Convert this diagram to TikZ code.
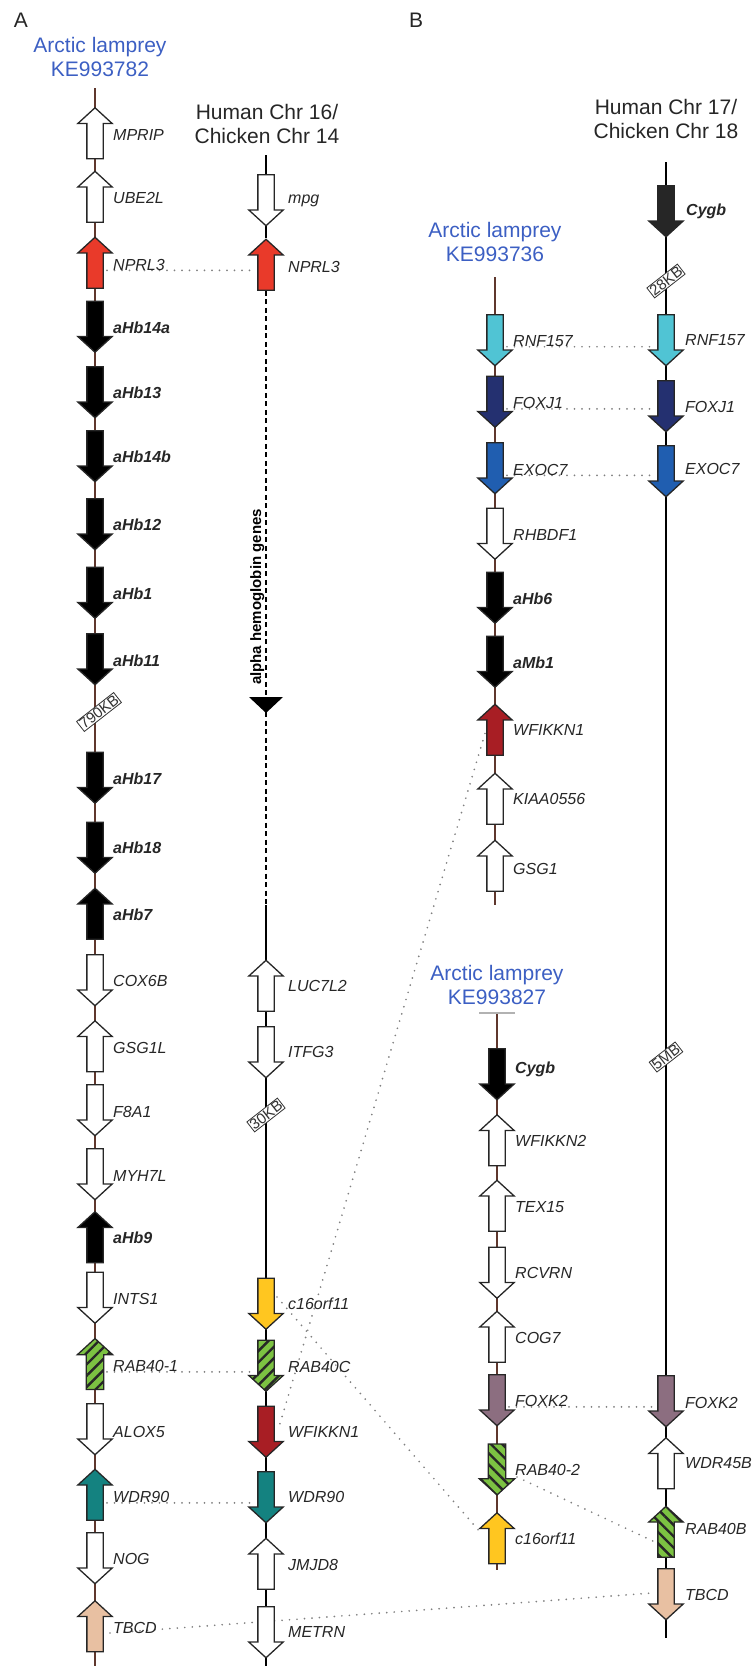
\documentclass[tikz,border=0pt]{standalone}
\usepackage{fontspec}
\setmainfont{Liberation Sans}
\usepackage{tikz}
\usetikzlibrary{shapes.arrows,patterns.meta,backgrounds}
\definecolor{lampblue}{RGB}{60,95,195}
\definecolor{nprred}{RGB}{233,58,42}
\definecolor{wfired}{RGB}{168,30,36}
\definecolor{rnfcyan}{RGB}{80,196,212}
\definecolor{foxnavy}{RGB}{36,48,112}
\definecolor{exoblue}{RGB}{32,94,176}
\definecolor{cyellow}{RGB}{255,198,32}
\definecolor{rabgreen}{RGB}{124,194,66}
\definecolor{wdrteal}{RGB}{20,130,128}
\definecolor{tbcpeach}{RGB}{232,192,162}
\definecolor{foxmauve}{RGB}{140,110,128}
\definecolor{chrbrown}{RGB}{95,55,45}
\tikzstyle{gene} = [draw=black!85, line width=1.3pt, fill=white, single arrow, single arrow head extend=9pt, single arrow tip angle=95, minimum width=33pt, minimum height=51pt, inner xsep=0pt, inner ysep=7.5pt]
\tikzstyle{gdown} = [gene, rotate=-90, xshift=-3.5pt]
\tikzstyle{gup} = [gene, rotate=90, xshift=-3.5pt]
\tikzstyle{glabel} = [anchor=west, inner sep=0pt, font=\fontsize{16}{18}\selectfont\itshape, text=black!85]
\tikzstyle{hblabel} = [glabel, font=\fontsize{16}{18}\selectfont\itshape\bfseries]
\tikzstyle{chrtitle} = [align=center, font=\fontsize{21}{24}\selectfont, text=black!85]
\tikzstyle{lamtitle} = [chrtitle, text=lampblue]
\tikzstyle{hatchne} = [preaction={fill=rabgreen}, pattern={Lines[angle=45,distance=8pt,line width=2.4pt]}, pattern color=black!85]
\tikzstyle{hatchnw} = [preaction={fill=rabgreen}, pattern={Lines[angle=-45,distance=8pt,line width=2.4pt]}, pattern color=black!85]
\tikzstyle{brk} = [draw=black!80, line width=0.8pt, fill=white, rotate=38, inner sep=1pt, font=\fontsize{15}{15}\selectfont, text=black!80]
\tikzstyle{lamline} = [draw=chrbrown, line width=1.2pt]
\tikzstyle{humline} = [draw=black, line width=1.8pt]
\tikzstyle{dashline} = [humline, dash pattern=on 5pt off 3.5pt]
\tikzstyle{homolog} = [draw=black!50, line width=1.9pt, line cap=round, dash pattern=on 0pt off 7.5pt]
\begin{document}
\begin{tikzpicture}[x=1pt, y=-1pt]
        \useasboundingbox (0,0) rectangle (755,1666);
        \node[chrtitle] (panA) at (21,20) {A};
        \node[chrtitle] (panB) at (416,20) {B};
        \node[lamtitle] (tlam1) at (100,57) {Arctic lamprey\\KE993782};
        \node[chrtitle] (thum16) at (267,124) {Human Chr 16/\\Chicken Chr 14};
        \node[lamtitle] (tlam2) at (495,242) {Arctic lamprey\\KE993736};
        \node[chrtitle] (thum17) at (666,119) {Human Chr 17/\\Chicken Chr 18};
        \node[lamtitle] (tlam3) at (497,985) {Arctic lamprey\\KE993827};
        \coordinate (lTop) at (95,88);
        \coordinate (lBot) at (95,1666);
        \coordinate (hTop) at (266,155);
        \coordinate (hTri) at (266,697);
        \coordinate (hTriB) at (266,712);
        \coordinate (hSolid) at (266,905);
        \coordinate (hBot) at (266,1666);
        \coordinate (mTop) at (495,277);
        \coordinate (mBot) at (495,905);
        \coordinate (kTop) at (497,1013);
        \coordinate (kBot) at (497,1570);
        \coordinate (cTop) at (666,162);
        \coordinate (cBot) at (666,1638);

        \node[gup] (lMPRIP) at (95,133.5) {};
        \node[glabel] (tlMPRIP) at (113,135) {MPRIP};
        \node[gup] (lUBE2L) at (95,197) {};
        \node[glabel] (tlUBE2L) at (113,198) {UBE2L};
        \node[gup, fill=nprred] (lNPRL3) at (95,263) {};
        \node[glabel] (tlNPRL3) at (113,264.5) {NPRL3};
        \node[gdown, fill=black] (laHb14a) at (95,326.5) {};
        \node[hblabel] (tlaHb14a) at (113,328) {aHb14a};
        \node[gdown, fill=black] (laHb13) at (95,392) {};
        \node[hblabel] (tlaHb13) at (113,393) {aHb13};
        \node[gdown, fill=black] (laHb14b) at (95,456) {};
        \node[hblabel] (tlaHb14b) at (113,457) {aHb14b};
        \node[gdown, fill=black] (laHb12) at (95,524) {};
        \node[hblabel] (tlaHb12) at (113,525) {aHb12};
        \node[gdown, fill=black] (laHb1) at (95,592.5) {};
        \node[hblabel] (tlaHb1) at (113,594) {aHb1};
        \node[gdown, fill=black] (laHb11) at (95,659) {};
        \node[hblabel] (tlaHb11) at (113,661) {aHb11};
        \node[brk] (lgap) at (99,712) {790KB};
        \node[gdown, fill=black] (laHb17) at (95,777.5) {};
        \node[hblabel] (tlaHb17) at (113,779) {aHb17};
        \node[gdown, fill=black] (laHb18) at (95,847.5) {};
        \node[hblabel] (tlaHb18) at (113,848) {aHb18};
        \node[gup, fill=black] (laHb7) at (95,914) {};
        \node[hblabel] (tlaHb7) at (113,915) {aHb7};
        \node[gdown] (lCOX6B) at (95,980) {};
        \node[glabel] (tlCOX6B) at (113,981) {COX6B};
        \node[gup] (lGSG1L) at (95,1046.5) {};
        \node[glabel] (tlGSG1L) at (113,1048) {GSG1L};
        \node[gdown] (lF8A1) at (95,1110) {};
        \node[glabel] (tlF8A1) at (113,1112) {F8A1};
        \node[gdown] (lMYH7L) at (95,1174) {};
        \node[glabel] (tlMYH7L) at (113,1176) {MYH7L};
        \node[gup, fill=black] (laHb9) at (95,1237.5) {};
        \node[hblabel] (tlaHb9) at (113,1238) {aHb9};
        \node[gdown] (lINTS1) at (95,1297.5) {};
        \node[glabel] (tlINTS1) at (113,1299) {INTS1};
        \node[gup, hatchne] (lRAB40) at (95,1364.5) {};
        \node[glabel] (tlRAB40) at (113,1366) {RAB40-1};
        \node[gdown] (lALOX5) at (95,1429) {};
        \node[glabel] (tlALOX5) at (113,1432) {ALOX5};
        \node[gup, fill=wdrteal] (lWDR90) at (95,1495) {};
        \node[glabel] (tlWDR90) at (113,1497) {WDR90};
        \node[gdown] (lNOG) at (95,1558) {};
        \node[glabel] (tlNOG) at (113,1559) {NOG};
        \node[gup, fill=tbcpeach] (lTBCD) at (95,1626.5) {};
        \node[glabel] (tlTBCD) at (113,1627.5) {TBCD};

        \node[gdown] (hMPG) at (266,200) {};
        \node[glabel] (thMPG) at (288,201) {mpg};
        \node[gup, fill=nprred] (hNPRL3) at (266,265) {};
        \node[glabel] (thNPRL3) at (288,267) {NPRL3};
        \node[rotate=90, anchor=south, inner sep=1.5pt, font=\fontsize{15}{15}\selectfont\bfseries] (thAlpha) at (266,597) {alpha hemoglobin genes};
        \node[gup] (hLUC7L2) at (266,986) {};
        \node[glabel] (thLUC7L2) at (288,986) {LUC7L2};
        \node[gdown] (hITFG3) at (266,1052) {};
        \node[glabel] (thITFG3) at (288,1052) {ITFG3};
        \node[brk] (hgap) at (266,1115) {30KB};
        \node[gdown, fill=cyellow] (hC16) at (266,1303.5) {};
        \node[glabel] (thC16) at (288,1304) {c16orf11};
        \node[gdown, hatchne] (hRAB40C) at (266,1365.5) {};
        \node[glabel] (thRAB40C) at (288,1367) {RAB40C};
        \node[gdown, fill=wfired] (hWFIKKN1) at (266,1431.5) {};
        \node[glabel] (thWFIKKN1) at (288,1432) {WFIKKN1};
        \node[gdown, fill=wdrteal] (hWDR90) at (266,1497) {};
        \node[glabel] (thWDR90) at (288,1497) {WDR90};
        \node[gup] (hJMJD8) at (266,1564) {};
        \node[glabel] (thJMJD8) at (288,1565) {JMJD8};
        \node[gdown] (hMETRN) at (266,1632) {};
        \node[glabel] (thMETRN) at (288,1632) {METRN};

        \node[gdown, fill=rnfcyan] (mRNF157) at (495,340) {};
        \node[glabel] (tmRNF157) at (513,341) {RNF157};
        \node[gdown, fill=foxnavy] (mFOXJ1) at (495,401.5) {};
        \node[glabel] (tmFOXJ1) at (513,403) {FOXJ1};
        \node[gdown, fill=exoblue] (mEXOC7) at (495,468) {};
        \node[glabel] (tmEXOC7) at (513,469.5) {EXOC7};
        \node[gdown] (mRHBDF1) at (495,533.5) {};
        \node[glabel] (tmRHBDF1) at (513,535) {RHBDF1};
        \node[gdown, fill=black] (maHb6) at (495,597.5) {};
        \node[hblabel] (tmaHb6) at (513,599) {aHb6};
        \node[gdown, fill=black] (maMb1) at (495,661.5) {};
        \node[hblabel] (tmaMb1) at (513,663) {aMb1};
        \node[gup, fill=wfired] (mWFIKKN1) at (495,730) {};
        \node[glabel] (tmWFIKKN1) at (513,730) {WFIKKN1};
        \node[gup] (mKIAA0556) at (495,799) {};
        \node[glabel] (tmKIAA0556) at (513,799) {KIAA0556};
        \node[gup] (mGSG1) at (495,866) {};
        \node[glabel] (tmGSG1) at (513,869) {GSG1};

        \node[gdown, fill=black] (kCygb) at (497,1074) {};
        \node[hblabel] (tkCygb) at (515,1069) {Cygb};
        \node[gup] (kWFIKKN2) at (497,1140.5) {};
        \node[glabel] (tkWFIKKN2) at (515,1141) {WFIKKN2};
        \node[gup] (kTEX15) at (497,1206) {};
        \node[glabel] (tkTEX15) at (515,1207) {TEX15};
        \node[gdown] (kRCVRN) at (497,1272.5) {};
        \node[glabel] (tkRCVRN) at (515,1273) {RCVRN};
        \node[gup] (kCOG7) at (497,1337) {};
        \node[glabel] (tkCOG7) at (515,1338) {COG7};
        \node[gdown, fill=foxmauve] (kFOXK2) at (497,1400) {};
        \node[glabel] (tkFOXK2) at (515,1401) {FOXK2};
        \node[gdown, hatchnw] (kRAB40) at (497,1469) {};
        \node[glabel] (tkRAB40) at (515,1470) {RAB40-2};
        \node[gup, fill=cyellow] (kC16) at (497,1538.5) {};
        \node[glabel] (tkC16) at (515,1539) {c16orf11};

        \node[gdown, fill=black!85] (cCygb) at (666,211) {};
        \node[hblabel] (tcCygb) at (686,211) {Cygb};
        \node[brk] (cgap1) at (666,281) {28KB};
        \node[gdown, fill=rnfcyan] (cRNF157) at (666,340) {};
        \node[glabel] (tcRNF157) at (685,340) {RNF157};
        \node[gdown, fill=foxnavy] (cFOXJ1) at (666,406) {};
        \node[glabel] (tcFOXJ1) at (685,407) {FOXJ1};
        \node[gdown, fill=exoblue] (cEXOC7) at (666,471) {};
        \node[glabel] (tcEXOC7) at (685,469) {EXOC7};
        \node[brk] (cgap2) at (666,1057) {5MB};
        \node[gdown, fill=foxmauve] (cFOXK2) at (666,1401) {};
        \node[glabel] (tcFOXK2) at (685,1403) {FOXK2};
        \node[gup] (cWDR45B) at (666,1463.5) {};
        \node[glabel] (tcWDR45B) at (685,1463) {WDR45B};
        \node[gup, hatchnw] (cRAB40B) at (666,1532) {};
        \node[glabel] (tcRAB40B) at (685,1529) {RAB40B};
        \node[gdown, fill=tbcpeach] (cTBCD) at (666,1594) {};
        \node[glabel] (tcTBCD) at (685,1595) {TBCD};

        \begin{scope}[on background layer]
        \draw[lamline] (lTop) -- (lBot);
        \draw[lamline] (mTop) -- (mBot);
        \draw[lamline] (kTop) -- (kBot);
        \draw[draw=black!30, line width=1.8pt] (479,1013) -- (515,1013);
        \draw[humline] (hTop) -- (hNPRL3);
        \draw[dashline] (hNPRL3) -- (hTri);
        \draw[dashline] (hTriB) -- (hSolid);
        \draw[humline] (hSolid) -- (hBot);
        \draw[humline] (cTop) -- (cBot);
        \path[homolog] ([xshift=-6pt]tlNPRL3.south west) -- ([xshift=-14pt]tlNPRL3.south west -| hNPRL3);
        \path[homolog] ([xshift=-6pt]tlRAB40.south west) -- ([xshift=-14pt]tlRAB40.south west -| hRAB40C);
        \path[homolog] ([xshift=-6pt]tlWDR90.south west) -- ([xshift=-14pt]tlWDR90.south west -| hWDR90);
        \path[homolog] ([xshift=-6pt]tmRNF157.south west) -- ([xshift=-14pt]tmRNF157.south west -| cRNF157);
        \path[homolog] ([xshift=-6pt]tmFOXJ1.south west) -- ([xshift=-14pt]tmFOXJ1.south west -| cFOXJ1);
        \path[homolog] ([xshift=-6pt]tmEXOC7.south west) -- ([xshift=-14pt]tmEXOC7.south west -| cEXOC7);
        \path[homolog] ([xshift=-6pt]tkFOXK2.south west) -- ([xshift=-14pt]tkFOXK2.south west -| cFOXK2);
        \path[homolog] ([xshift=-10pt]mWFIKKN1.center) -- ([xshift=13pt,yshift=1pt]hWFIKKN1.center);
        \path[homolog] ([xshift=11pt,yshift=3pt]hC16.center) -- ([xshift=-17pt,yshift=10pt]kC16.center);
        \path[homolog] ([xshift=20pt,yshift=-11.5pt]kRAB40.center) -- ([xshift=-11pt,yshift=-6.5pt]cRAB40B.center);
        \path[homolog] ([xshift=15pt,yshift=-3pt]lTBCD.center) -- ([xshift=-14pt,yshift=-2.5pt]cTBCD.center);
        \end{scope}
        \fill (hTri) ++(-17,0) -- ++(34,0) -- ++(-17,16) -- cycle;
    \end{tikzpicture}
\end{document}
